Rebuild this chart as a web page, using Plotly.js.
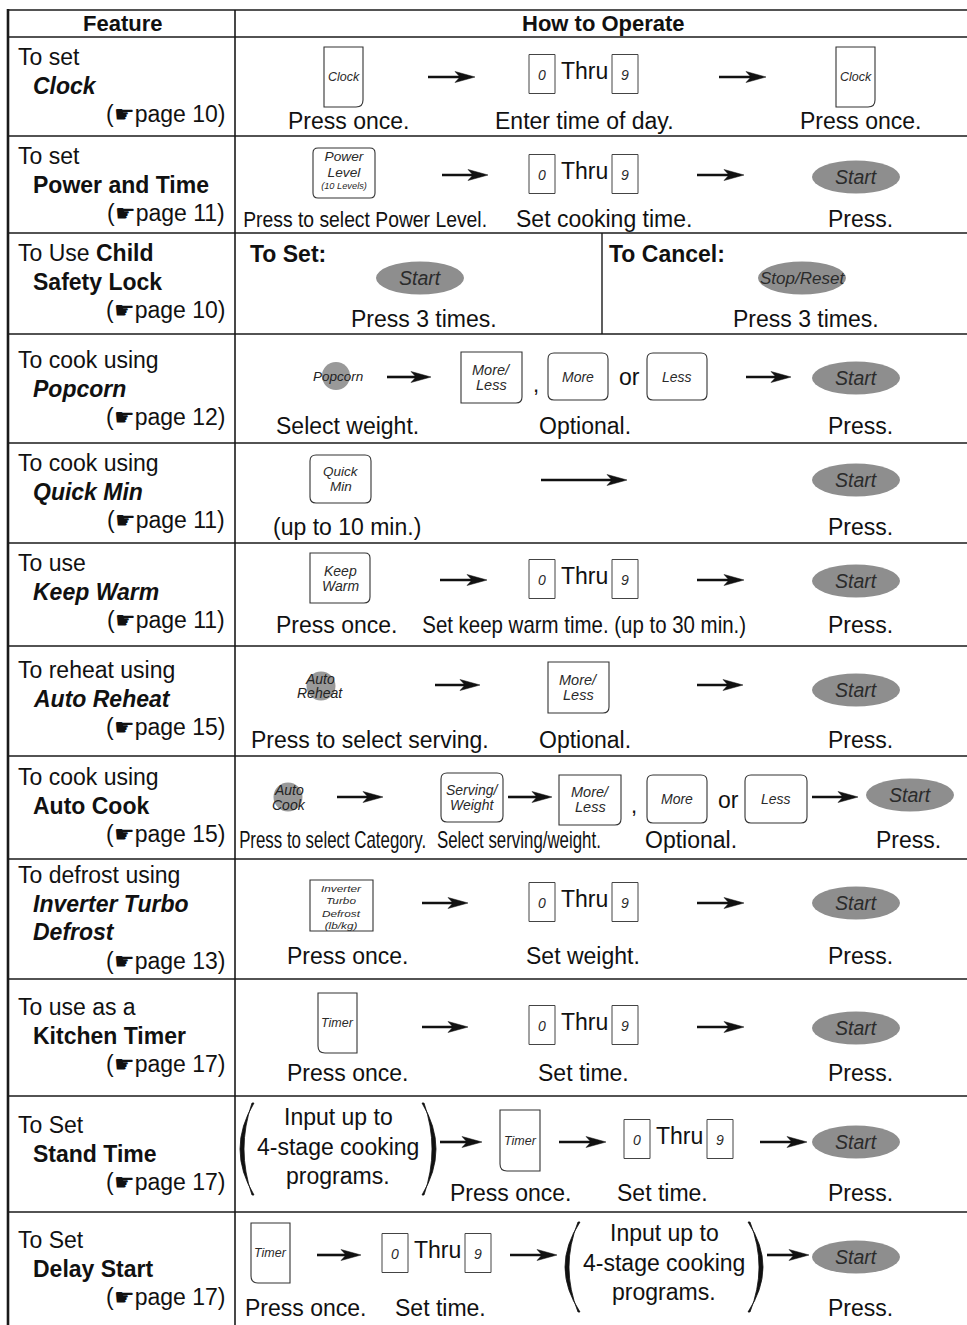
<!DOCTYPE html>
<html>
<head>
<meta charset="utf-8">
<script src="https://cdn.plot.ly/plotly-3.0.1.min.js"></script>
<style>
html,body{margin:0;padding:0;background:#fff;}
#chart{width:967px;height:1325px;}
</style>
</head>
<body>
<div id="chart"></div>
<script>
// ---------------- DATA (text content) ----------------
const headers = ["Feature", "How to Operate"];
const featIntro = ["To set", "To set", "To Use <b>Child</b>", "To cook using", "To cook using", "To use",
  "To reheat using", "To cook using", "To defrost using", "To use as a", "To Set", "To Set"];
const featName = [["Clock"], ["Power and Time"], ["Safety Lock"], ["Popcorn"], ["Quick Min"], ["Keep Warm"],
  ["Auto Reheat"], ["Auto Cook"], ["Inverter Turbo", "Defrost"], ["Kitchen Timer"], ["Stand Time"], ["Delay Start"]];
const featItalic = [true, false, false, true, true, true, true, false, true, false, false, false];
const featPage = [10, 11, 10, 12, 11, 11, 15, 15, 13, 17, 17, 17];

const captions = [
  ["Press once.", "Enter time of day.", "Press once."],
  ["Press to select Power Level.", "Set cooking time.", "Press."],
  ["Press 3 times.", "Press 3 times."],
  ["Select weight.", "Optional.", "Press."],
  ["(up to 10 min.)", "Press."],
  ["Press once.", "Set keep warm time. (up to 30 min.)", "Press."],
  ["Press to select serving.", "Optional.", "Press."],
  ["Press to select Category.", "Select serving/weight.", "Optional.", "Press."],
  ["Press once.", "Set weight.", "Press."],
  ["Press once.", "Set time.", "Press."],
  ["Press once.", "Set time.", "Press."],
  ["Press once.", "Set time.", "Press."]
];
const lockHeads = ["To Set:", "To Cancel:"];
const lblClock = ["Clock"];
const lblPower = ["Power", "Level", "(10 Levels)"];
const lblMoreLess = ["More/", "Less"];
const lblMore = ["More"];
const lblLess = ["Less"];
const lblQuick = ["Quick", "Min"];
const lblKeep = ["Keep", "Warm"];
const lblServing = ["Serving/", "Weight"];
const lblDefrost = ["Inverter", "Turbo", "Defrost", "(lb/kg)"];
const lblTimer = ["Timer"];
const lblPopcorn = ["Popcorn"];
const lblReheat = ["Auto", "Reheat"];
const lblAutoCook = ["Auto", "Cook"];
const lblStart = "Start";
const lblStop = "Stop/Reset";
const digits = ["0", "9"];
const thruWord = "Thru";
const programText = ["Input up to", "4-stage cooking", "programs."];
const joinWords = [",", "or"];

// ---------------- GEOMETRY ----------------
const W = 967, H = 1325;
const rowEdges = [37, 136, 233, 334, 443, 543, 646, 756, 859, 979, 1096, 1212, 1325];
const featY0 = [57, 156, 253, 360, 463, 563, 670, 777, 875, 1007, 1125, 1240];
const captionY = [121, 219, 319, 426, 527, 625, 740, 840, 956, 1073, 1193, 1308];
const captionX = [[348, 584, 860], [365, 604, 860], [424, 806], [347, 585, 860], [347, 860], [336, 584, 860],
  [370, 585, 860], [332, 519, 691, 908], [347, 583, 860], [347, 583, 860], [510, 662, 860], [305, 440, 860]];
// condensed caption target widths (0 = normal width)
const captionFit = [[0, 0, 0], [244, 0, 0], [0, 0], [0, 0, 0], [0, 0], [0, 324, 0], [0, 0, 0], [187, 164, 0, 0],
  [0, 0, 0], [0, 0, 0], [0, 0, 0], [0, 0, 0]];

const SANS = "Liberation Sans, Arial, Helvetica, sans-serif";
const INK = "#111111";
const KEYINK = "#2a2a2a";
const GRAY = "#8e8e8e";

const shapes = [], annotations = [], fits = [];

function T(x, y, text, size, o) {
  o = o || {};
  annotations.push({
    x: x, y: y, xref: 'x', yref: 'y', text: text, showarrow: false,
    xanchor: o.a || 'center', yanchor: 'middle', borderpad: 0,
    font: {family: SANS, size: size, color: o.c || INK}
  });
  if (o.fit) fits.push([annotations.length - 1, o.fit]);
}
function ital(lines) {
  return lines.map(t => '<i>' + t + '</i>').join('<br>');
}
function line(x0, y0, x1, y1, w) {
  shapes.push({type: 'line', xref: 'x', yref: 'y', x0: x0, y0: y0, x1: x1, y1: y1,
    line: {color: '#1a1a1a', width: w || 1.6}});
}
function rr(x0, y0, x1, y1, r) {
  const a = r[0], b = r[1], c = r[2], d = r[3];
  let p = `M${x0 + a},${y0} L${x1 - b},${y0}`;
  if (b) p += ` Q${x1},${y0} ${x1},${y0 + b}`;
  p += ` L${x1},${y1 - c}`;
  if (c) p += ` Q${x1},${y1} ${x1 - c},${y1}`;
  p += ` L${x0 + d},${y1}`;
  if (d) p += ` Q${x0},${y1} ${x0},${y1 - d}`;
  p += ` L${x0},${y0 + a}`;
  if (a) p += ` Q${x0},${y0} ${x0 + a},${y0}`;
  return p + ' Z';
}
function key(box, r, lines, size, ys) {
  shapes.push({type: 'path', xref: 'x', yref: 'y', path: rr(box[0], box[1], box[2], box[3], r),
    fillcolor: 'white', line: {color: '#333', width: 1.1}});
  const cx = (box[0] + box[2]) / 2;
  const n = lines.length;
  lines.forEach((t, i) => {
    const y = ys ? ys[i] : (box[1] + box[3]) / 2 + (i - (n - 1) / 2) * 15;
    T(cx, y, '<i>' + t + '</i>', size, {c: KEYINK});
  });
}
function arrow(x1, x2, y) {
  shapes.push({type: 'line', xref: 'x', yref: 'y', x0: x1, y0: y, x1: x2 - 12, y1: y,
    line: {color: INK, width: 2.6}});
  shapes.push({type: 'path', xref: 'x', yref: 'y',
    path: `M${x2},${y} L${x2 - 20},${y - 5.5} L${x2 - 15},${y} L${x2 - 20},${y + 5.5} Z`,
    fillcolor: INK, line: {color: INK, width: 0.5}});
}
function startBtn(cx, cy, label, size) {
  shapes.push({type: 'circle', xref: 'x', yref: 'y', x0: cx - 44, x1: cx + 44, y0: cy - 16.5, y1: cy + 16.5,
    fillcolor: GRAY, line: {width: 0}});
  T(cx, cy, '<i>' + (label || lblStart) + '</i>', size || 19.5, {c: '#2b2b2b'});
}
function dot(cx, cy, r, lines, size, gap, dx) {
  shapes.push({type: 'circle', xref: 'x', yref: 'y', x0: cx - r, x1: cx + r, y0: cy - r, y1: cy + r,
    fillcolor: '#999999', line: {width: 0}});
  const n = lines.length;
  lines.forEach((t, i) => T(cx + (dx || 0), cy + (i - (n - 1) / 2) * gap, '<i>' + t + '</i>', size, {c: '#222'}));
}
function thru(x0, yc) {
  shapes.push({type: 'rect', xref: 'x', yref: 'y', x0: x0, x1: x0 + 26, y0: yc - 19.5, y1: yc + 19.5,
    fillcolor: 'white', line: {color: '#444', width: 1}});
  shapes.push({type: 'rect', xref: 'x', yref: 'y', x0: x0 + 83, x1: x0 + 109, y0: yc - 19.5, y1: yc + 19.5,
    fillcolor: 'white', line: {color: '#444', width: 1}});
  T(x0 + 13, yc + 1, '<i>' + digits[0] + '</i>', 14, {c: KEYINK});
  T(x0 + 96, yc + 1, '<i>' + digits[1] + '</i>', 14, {c: KEYINK});
  T(x0 + 55, yc - 3, thruWord, 23);
}
function paren(xl, xr, y0, y1, left) {
  const ym = (y0 + y1) / 2;
  let p;
  if (left) {
    p = `M${xr},${y0} Q${2 * xl - xr + 4},${ym} ${xr},${y1} L${xr - 2},${y1} Q${2 * xl - xr + 14},${ym} ${xr - 2},${y0} Z`;
  } else {
    p = `M${xl},${y0} Q${2 * xr - xl - 4},${ym} ${xl},${y1} L${xl + 2},${y1} Q${2 * xr - xl - 14},${ym} ${xl + 2},${y0} Z`;
  }
  shapes.push({type: 'path', xref: 'x', yref: 'y', path: p, fillcolor: INK, line: {color: INK, width: 0.8}});
}
function programs(cx, ys) {
  programText.forEach((t, i) => T(cx, ys[i], t, 23));
}

// ---------------- TABLE GRID ----------------
line(8, 10, W, 10, 1.6);
rowEdges.slice(0, -1).forEach(y => line(8, y, W, y, 1.6));
line(8, 9, 8, H, 2.6);
line(235, 10, 235, H, 1.6);
line(602, 233, 602, 334, 1.4);

T(122, 23, '<b>' + headers[0] + '</b>', 22);
T(603, 23, '<b>' + headers[1] + '</b>', 22);

// ---------------- FEATURE COLUMN ----------------
featIntro.forEach((intro, i) => {
  const y0 = featY0[i];
  T(17, y0, intro, 23, {a: 'left'});
  featName[i].forEach((nm, k) => {
    const t = featItalic[i] ? '<b><i>' + nm + '</i></b>' : '<b>' + nm + '</b>';
    T(32, y0 + 28.5 * (k + 1), t, 23, {a: 'left'});
  });
  T(226, y0 + 28.5 * (featName[i].length + 1), '(\u261Bpage ' + featPage[i] + ')', 23, {a: 'right'});
});

// ---------------- CAPTIONS ----------------
captions.forEach((row, i) => {
  row.forEach((t, j) => {
    T(captionX[i][j], captionY[i], t, 23, {fit: captionFit[i][j]});
  });
});

// ---------------- ROW CONTENTS ----------------
// Row 1 Clock
key([324, 47, 363, 107], [0, 0, 7, 0], lblClock, 12.5);
arrow(428, 475, 77);
thru(529, 74);
arrow(719, 766, 77);
key([836, 47, 875, 107], [0, 0, 7, 0], lblClock, 12.5);

// Row 2 Power and Time
key([313, 148, 375, 198], [5, 5, 5, 5], []);
T(344, 165, ital(lblPower.slice(0, 2)), 12, {c: KEYINK, fit: 40});
T(344, 186, ital(lblPower.slice(2)), 8.5, {c: KEYINK, fit: 46});
arrow(442, 488, 175);
thru(529, 174);
arrow(697, 744, 175);
startBtn(856, 177);

// Row 3 Child Safety Lock
T(249, 254, '<b>' + lockHeads[0] + '</b>', 23, {a: 'left'});
T(608, 254, '<b>' + lockHeads[1] + '</b>', 23, {a: 'left'});
startBtn(420, 278);
startBtn(802, 278, lblStop, 17);

// Row 4 Popcorn
dot(336, 376, 14, lblPopcorn, 13.5, 0, 2);
arrow(387, 431, 377);
key([461, 352, 522, 403], [0, 0, 6, 0], lblMoreLess, 14.5, [370, 385]);
T(536, 384, joinWords[0], 22);
key([548, 353, 608, 400], [6, 6, 6, 6], lblMore, 14);
T(629, 377, joinWords[1], 23);
key([647, 353, 707, 400], [6, 6, 6, 6], lblLess, 14);
arrow(746, 791, 377);
startBtn(856, 378);

// Row 5 Quick Min
key([310, 455, 371, 503], [6, 6, 6, 6], lblQuick, 13.5, [471, 486]);
arrow(541, 627, 480);
startBtn(856, 480);

// Row 6 Keep Warm
key([310, 553, 370, 603], [0, 5, 6, 0], lblKeep, 14, [571, 586]);
arrow(440, 487, 580);
thru(529, 579);
arrow(697, 744, 580);
startBtn(856, 581);

// Row 7 Auto Reheat
dot(321, 686, 14.5, lblReheat, 14, 14.5, -1);
arrow(435, 480, 685);
key([548, 662, 609, 713], [0, 0, 6, 0], lblMoreLess, 14.5, [680, 695]);
arrow(697, 743, 685);
startBtn(856, 690);

// Row 8 Auto Cook
dot(288, 797, 14.5, lblAutoCook, 14, 15, 1);
arrow(337, 383, 797);
key([441, 773, 503, 822], [6, 6, 6, 6], lblServing, 14, [790, 805]);
arrow(508, 552, 797);
key([559, 775, 621, 825], [0, 0, 6, 0], lblMoreLess, 14.5, [792, 807]);
T(634, 805, joinWords[0], 22);
key([647, 775, 707, 823], [6, 6, 6, 6], lblMore, 14);
T(728, 800, joinWords[1], 23);
key([745, 775, 807, 823], [6, 6, 6, 6], lblLess, 14);
arrow(812, 858, 797);
startBtn(910, 795);

// Row 9 Inverter Turbo Defrost
key([310, 880, 373, 931], [0, 0, 0, 0], []);
T(341.5, 906.5, ital(lblDefrost), 9.5, {c: KEYINK, fit: 41});
arrow(422, 468, 903);
thru(529, 902);
arrow(697, 744, 903);
startBtn(856, 903);

// Row 10 Kitchen Timer
key([318, 993, 357, 1053], [0, 0, 0, 7], lblTimer, 12.5);
arrow(422, 468, 1027);
thru(529, 1025);
arrow(697, 744, 1027);
startBtn(856, 1028);

// Row 11 Stand Time
paren(238, 254, 1103, 1195, true);
programs(338, [1117, 1147, 1176]);
paren(422, 438, 1103, 1195, false);
arrow(440, 482, 1142);
key([500, 1110, 540, 1171], [0, 0, 0, 7], lblTimer, 12.5);
arrow(559, 606, 1142);
thru(624, 1139);
arrow(760, 807, 1142);
startBtn(856, 1142);

// Row 12 Delay Start
key([251, 1223, 290, 1283], [0, 0, 0, 7], lblTimer, 12.5);
arrow(317, 361, 1255);
thru(382, 1253);
arrow(510, 557, 1255);
paren(563, 580, 1222, 1312, true);
programs(664, [1233, 1263, 1292]);
paren(748, 765, 1222, 1312, false);
arrow(767, 809, 1255);
startBtn(856, 1257);

// ---------------- PLOT ----------------
const layout = {
  width: W, height: H,
  margin: {l: 0, r: 0, t: 0, b: 0, pad: 0},
  paper_bgcolor: '#ffffff', plot_bgcolor: '#ffffff',
  showlegend: false,
  xaxis: {range: [0, W], visible: false, fixedrange: true, showgrid: false, zeroline: false},
  yaxis: {range: [H, 0], visible: false, fixedrange: true, showgrid: false, zeroline: false},
  shapes: shapes,
  annotations: annotations
};
const traces = [{x: [0, W], y: [0, H], mode: 'markers', marker: {opacity: 0}, hoverinfo: 'skip', type: 'scatter'}];
Plotly.newPlot('chart', traces, layout, {staticPlot: true, displayModeBar: false}).then(gd => {
  // condense / widen selected texts horizontally to the printed widths
  fits.forEach(([idx, w]) => {
    const g = gd.querySelector('.annotation[data-index="' + idx + '"]');
    if (!g) return;
    const t = g.querySelector('text.annotation-text') || g.querySelector('text');
    if (!t) return;
    const bb = t.getBBox();
    if (!bb.width) return;
    const cx = bb.x + bb.width / 2;
    const s = w / bb.width;
    t.setAttribute('transform', 'translate(' + cx + ',0) scale(' + s + ',1) translate(' + (-cx) + ',0)');
  });
});
</script>
</body>
</html>
